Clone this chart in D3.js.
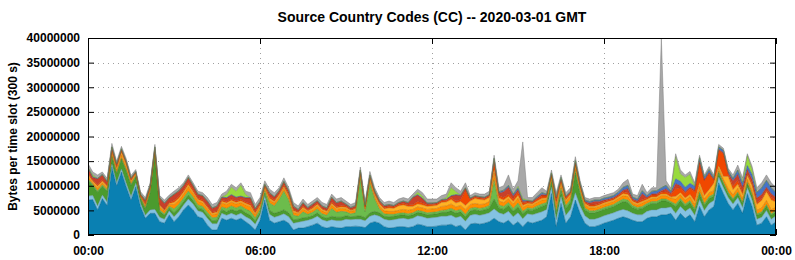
<!DOCTYPE html>
<html>
<head>
<meta charset="utf-8">
<script src="https://cdn.jsdelivr.net/npm/d3@7"></script>
<style>
  body { margin: 0; background: #fff; }
  svg text { font-family: "Liberation Sans", Arial, sans-serif; font-weight: bold; fill: #000; }
</style>
</head>
<body>
<svg id="chart" width="795" height="260"></svg>
<script>
// ---- DATA (values in millions of bytes per 300 s slot, one value every 10 minutes, 00:00 .. 24:00) ----
const title = "Source Country Codes (CC) -- 2020-03-01 GMT";
const yLabel = "Bytes per time slot (300 s)";
const unit = 1e6;
const slotMinutes = 10;
const yTicks = [0, 5000000, 10000000, 15000000, 20000000, 25000000, 30000000, 35000000, 40000000];
const xTickLabels = ["00:00", "06:00", "12:00", "18:00", "00:00"];

const blue = [7.1,7.2,5.1,7.4,6.0,13.8,10.0,12.8,9.8,7.1,9.8,5.8,
 3.4,4.4,4.4,2.7,2.4,4.1,2.7,3.7,5.1,6.1,5.1,3.7,
 3.4,2.0,1.0,1.0,3.4,3.0,3.4,3.0,3.4,2.7,2.0,1.0,
 3.0,7.1,3.0,2.4,2.7,3.0,2.4,1.0,1.4,1.4,1.7,2.0,
 2.4,1.7,1.4,1.7,1.5,1.4,1.7,1.7,1.8,1.7,1.5,2.4,
 2.7,2.4,1.7,1.4,1.5,1.7,1.7,1.5,1.7,2.2,2.0,1.7,
 1.7,1.8,2.0,2.0,2.2,1.7,2.0,1.0,2.2,2.4,2.2,2.4,
 2.7,3.4,2.7,2.4,3.0,2.0,2.7,1.7,2.7,2.4,2.7,3.0,
 3.7,8.4,1.7,6.4,2.4,3.7,7.1,4.4,2.4,1.7,1.7,2.0,
 2.4,2.7,3.0,3.4,3.7,3.4,3.0,2.7,2.7,3.4,3.7,3.7,
 4.1,4.1,4.4,3.0,4.4,3.4,4.1,2.7,5.8,3.7,5.1,5.8,
 10.6,8.4,6.4,5.1,6.4,4.4,8.4,5.8,2.0,2.4,3.7,2.0,
 2.7];
const lightBlue = [.8,.8,.8,.7,.7,.6,.6,.6,.7,.7,.7,.6,
 .6,.7,.8,.9,.8,.8,1.0,1.0,1.0,1.2,1.2,1.2,
 1.2,1.4,1.3,1.3,1.0,1.0,1.0,1.0,1.0,1.0,1.2,1.2,
 1.0,.8,1.2,1.2,1.2,1.3,1.3,1.4,1.2,1.4,1.3,1.3,
 1.4,1.4,1.4,1.4,1.4,1.5,1.5,1.4,1.4,1.5,1.4,1.4,
 1.4,1.4,1.5,1.6,1.6,1.6,1.7,1.7,1.7,1.7,1.7,1.7,
 1.8,1.8,1.8,1.8,1.8,1.8,1.8,1.8,1.8,1.8,1.8,1.8,
 1.8,1.9,1.8,1.8,1.8,1.7,1.8,1.6,1.6,1.7,1.7,1.7,
 1.5,1.3,1.4,1.4,1.6,1.5,1.5,1.5,1.5,1.5,1.5,1.5,
 1.5,1.5,1.5,1.5,1.5,1.5,1.4,1.4,1.4,1.4,1.4,1.4,
 1.4,1.4,1.3,1.4,1.4,1.4,1.4,1.3,1.4,1.3,1.3,1.2,
 1.2,1.2,1.2,1.2,1.2,1.2,1.2,1.3,1.2,1.2,1.3,1.2,
 1.2];
const green = [3.2,2.0,2.8,1.8,2.2,1.5,1.8,2.0,2.5,2.3,1.3,1.0,
 1.3,3.5,11.0,1.2,.8,.6,.8,.8,.7,.8,.7,.6,
 .6,.6,.6,.7,.7,.7,.8,.8,.8,.8,.8,.7,
 .6,.6,.8,.8,.8,.8,.8,.7,.6,.7,.6,.6,
 .7,.6,.6,.7,.7,.7,.7,.6,.6,.7,.6,.7,
 .7,.7,.6,.7,.7,.7,.7,.7,.7,.7,.7,.7,
 .7,.7,.8,.8,.9,.9,.9,.9,.9,.9,.9,.9,
 1.0,2.0,1.0,1.0,1.2,1.1,1.2,1.0,.8,.9,1.0,1.1,
 1.0,1.0,1.2,1.2,1.4,1.5,4.0,2.4,1.2,1.3,1.3,1.3,
 1.3,1.3,1.3,1.4,1.6,1.7,1.2,1.1,1.3,1.2,1.3,1.3,
 1.4,1.4,.8,1.4,1.2,1.1,1.1,1.0,1.2,1.0,1.0,.9,
 .8,.8,.8,.8,.8,.8,.8,.9,.8,.8,.9,.8,
 .8];
const lightGreen = [.3,.3,.3,.3,.3,.2,.2,.2,.2,.2,.2,.2,
 .2,.2,.2,.3,.3,.3,.8,.7,.7,.8,.7,.6,
 .6,.6,.6,.6,.6,.7,.7,.7,.7,.8,.8,.6,
 .6,.5,1.5,1.5,2.5,3.8,2.6,.9,.6,1.2,.6,.7,
 .8,.6,.6,1.6,1.0,1.2,.8,.6,.7,7.6,1.2,6.0,
 2.5,.8,.5,.5,.4,.4,.4,.4,.4,.4,.4,.4,
 .4,.4,.4,.5,.5,.5,.5,.5,.5,.5,.5,.5,
 .5,3.8,.6,.6,.6,.6,.8,.5,.4,.4,.5,.5,
 .4,.4,.5,.5,.6,.5,.5,.5,.4,.4,.4,.4,
 .4,.4,.4,.5,.5,.5,.4,.4,.4,.4,.4,.4,
 .4,.4,.3,.5,.4,.4,.4,.4,.4,.4,.4,.4,
 .3,.3,.3,.3,.3,.3,.3,.3,.3,.3,.3,.3,
 .3];
const orange = [.5,.3,.5,.4,.4,.5,.6,.6,.6,.4,.3,.2,
 .4,.4,.5,.6,.5,.4,.9,.8,.8,.9,.8,.8,
 .7,.7,.6,.7,.8,.8,.8,.8,.7,.8,.9,.6,
 .6,.5,.6,.6,.6,.6,.6,.6,.5,.6,.5,.5,
 .6,.6,.5,.7,.6,.6,.6,.5,.5,.6,.6,.6,
 .6,.6,.6,.6,.6,.6,.7,.7,.7,.7,.7,.7,
 .7,.7,.8,.8,.9,.8,.8,1.0,.8,.8,.8,.7,
 .8,1.5,.8,.8,.8,.9,1.0,.8,.6,.6,.7,.8,
 .6,.6,.9,.8,.8,.7,.8,.7,.6,.6,.6,.6,
 .6,.6,.6,.6,.7,.7,.5,.5,.7,.5,.6,.6,
 .7,.7,.7,1.0,.8,.8,.8,.8,1.0,.9,.8,.7,
 .6,.6,.7,.8,.8,.7,.6,.7,.7,.8,.8,.8,
 .7];
const amber = [.4,.3,.4,.3,.3,.3,.4,.6,.5,.3,.2,.1,
 .2,.2,.3,.3,.2,.2,.4,.4,.4,.4,.3,.3,
 .3,.3,.3,.3,.3,.3,.3,.3,.3,.3,.3,.3,
 .2,.2,.3,.3,.3,.3,.3,.3,.2,.3,.2,.3,
 .3,.3,.3,.3,.3,.3,.3,.2,.3,.3,.2,.3,
 .3,.4,.4,.7,.6,.9,.9,.8,.6,.6,.6,.6,
 .6,.6,.8,.8,.9,.8,.8,.8,.7,1.0,1.0,.8,
 .8,.6,.6,.5,.4,.5,.5,.4,.3,.3,.3,.3,
 .3,.2,.5,.3,.3,.3,.2,.2,.3,.3,.3,.3,
 .3,.3,.3,.3,.4,.4,.3,.3,.3,.3,.3,.3,
 .3,.3,.2,.5,.4,.4,.4,.6,.8,.7,.6,1.5,
 .5,.6,2.5,1.0,.8,.8,.8,1.0,1.2,1.5,1.8,2.0,
 1.0];
const orangeRed = [.3,.2,.3,.3,.2,.3,.3,.3,.3,.2,.2,.1,
 .3,.3,.3,.2,.2,.2,.4,.4,.4,.5,.4,.3,
 .3,.3,.2,.3,.3,.3,.3,.3,.3,.3,.4,.3,
 .3,.3,.4,.3,.3,.4,.3,.3,.2,.3,.2,.3,
 .3,.2,.2,.3,.3,.3,.3,.2,.2,.4,.2,.4,
 .4,.3,.3,.3,.3,.3,.3,.3,.4,.5,.4,.3,
 .3,.3,.3,.3,.4,.4,.4,3.0,.3,.3,.3,.3,
 .3,1.8,.5,.5,.5,.5,.8,.5,.3,.3,.4,.5,
 .4,.3,.8,.6,.4,.4,.5,.4,.3,.3,.3,.3,
 .3,.3,.3,.3,.4,.4,.3,.3,.4,.3,.4,.4,
 .4,.5,.5,1.6,1.0,1.0,1.2,2.0,4.0,3.0,3.3,.6,
 3.2,4.6,.5,.8,.8,.5,.4,.5,.4,.4,.4,.6,
 .3];
const brick = [1.0,.6,1.2,1.0,.7,.6,.5,.3,.3,.3,.1,.2,
 .6,.3,.3,1.3,1.2,.9,1.2,1.1,.9,.9,.8,.7,
 .8,.9,.8,.9,.5,.7,.8,.7,.6,.8,1.1,.6,
 .4,.2,.7,.6,.5,.6,.6,.6,.4,.6,.4,.5,
 .4,.4,.4,.9,.7,.8,.3,.3,.4,.3,.3,.3,
 .3,.3,.3,.3,.2,.3,.4,.4,1.4,1.3,.9,.3,
 .2,.2,.2,.2,.3,1.2,.8,.5,.2,.2,.2,.2,
 .2,.4,.5,1.2,1.4,.6,.4,.3,.2,.2,.2,.3,
 .2,.2,.5,.2,.2,.1,.1,.1,.1,.4,.7,.4,
 .3,.2,.2,.2,.3,.8,.2,.2,1.2,.1,.2,.3,
 .3,.6,.3,1.0,.4,.3,.3,.3,.3,.2,.2,.2,
 .2,.2,.2,1.0,1.2,1.0,.8,.8,.9,.8,.5,.7,
 .6];
const royalBlue = [.1,.1,.1,.1,.1,.1,.1,.1,.1,.1,.1,.1,
 .1,.1,.1,.1,.1,.1,.1,.1,.1,.1,.1,.1,
 .1,.1,.1,.1,.1,.1,.1,.1,.1,.1,.1,.1,
 .1,.1,.1,.1,.1,.1,.1,.1,.1,.1,.1,.1,
 .1,.1,.1,.1,.1,.1,.1,.1,.1,.1,.1,.1,
 .1,.1,.1,.1,.1,.1,.1,.1,.1,.1,.1,.1,
 .1,.1,.1,.1,.1,.1,.1,.1,.1,.1,.1,.1,
 .1,.2,.3,.3,.4,.4,.4,.3,.1,.1,.3,.4,
 .2,.2,.3,.3,.2,.2,.4,.3,.3,.3,.3,.3,
 .4,.4,.4,.5,.6,.7,.4,.4,.6,.4,.6,.6,
 .6,.7,.4,1.0,.9,.9,.8,.8,.8,.6,.6,.4,
 .5,.5,.4,.5,.9,.8,.8,1.0,1.2,1.4,1.4,1.2,
 1.0];
const lime = [0,.4,0,0,0,0,0,0,0,0,0,0,
 0,0,0,0,0,0,0,0,0,0,0,0,
 0,0,0,0,0,.6,1.5,1.2,2.2,.6,0,0,
 0,0,0,0,0,0,0,0,0,0,0,0,
 0,0,0,0,0,0,0,0,0,0,0,0,
 0,0,0,0,0,0,0,0,0,.5,.4,0,
 0,0,0,.3,1.6,.6,0,0,0,0,0,0,
 0,0,0,0,0,0,.3,.3,.1,0,0,0,
 0,0,0,0,0,0,0,0,0,0,0,0,
 0,0,0,0,0,0,0,0,0,0,0,0,
 0,0,0,4.5,1.5,2.0,1.8,0,0,0,0,0,
 0,0,0,0,0,.3,2.0,1.0,0,0,0,0,
 0];
const gray = [.8,.6,.7,.5,.6,.7,.5,.5,.5,.5,.4,.5,
 .5,.4,.5,.4,.6,.5,.6,.6,.5,.5,.5,.6,
 .6,.7,.7,.7,.6,.7,.6,.7,.5,.7,1.0,.8,
 .8,.7,.7,.8,.6,.7,.6,.7,.7,.7,.6,.6,
 .6,.7,.7,.6,.7,.7,.6,.6,.6,.6,.7,.7,
 .6,.6,.6,.7,.6,.7,.7,.7,.6,.6,.7,.8,
 .8,.7,.8,.7,1.0,.8,.8,1.0,.5,.6,.5,.6,
 .7,.6,.8,.9,2.1,1.0,1.1,11.5,.5,.7,.8,1.0,
 .6,.6,.8,.5,.7,.7,.8,.5,.5,.5,.5,.5,
 .5,.6,.6,.6,.9,1.2,.6,.7,1.3,.6,.7,.6,
 30.4,.9,.6,.6,.8,.5,.6,.7,.5,.4,.6,.5,
 .5,.4,.5,.7,1.0,.8,.4,.6,.9,1.0,1.1,1.0,
 1.0];

// ---- layout / styles ----
const seriesList = [
  {key: "blue", values: blue, color: "#0a80b2"},
  {key: "lightBlue", values: lightBlue, color: "#84c2e2"},
  {key: "green", values: green, color: "#4b9b2e"},
  {key: "lightGreen", values: lightGreen, color: "#6cbc4c"},
  {key: "orange", values: orange, color: "#ff8e00"},
  {key: "amber", values: amber, color: "#ffb224"},
  {key: "orangeRed", values: orangeRed, color: "#f04800"},
  {key: "brick", values: brick, color: "#c8402a"},
  {key: "royalBlue", values: royalBlue, color: "#4674c6"},
  {key: "lime", values: lime, color: "#98da3e"},
  {key: "gray", values: gray, color: "#a8a8a8"}
];

const W = 795, H = 260;
const M = {left: 88, right: 19, top: 38, bottom: 25};
const svg = d3.select("#chart");
const start = new Date(Date.UTC(2020, 2, 1, 0, 0));
const end = new Date(Date.UTC(2020, 2, 2, 0, 0));

const rows = blue.map((_, i) => {
  const r = {time: new Date(start.getTime() + i * slotMinutes * 60000)};
  seriesList.forEach(s => r[s.key] = s.values[i] * unit);
  return r;
});

const x = d3.scaleUtc().domain([start, end]).range([M.left, W - M.right]);
const y = d3.scaleLinear().domain([0, 40000000]).range([H - M.bottom, M.top]);

const stack = d3.stack().keys(seriesList.map(s => s.key));
const layers = stack(rows);

// grid
const xTickDates = d3.utcHours(start, new Date(end.getTime() + 1), 6);
const grid = svg.append("g");
grid.selectAll("line.gy").data(yTicks.slice(1, -1)).join("line")
  .attr("x1", M.left).attr("x2", W - M.right)
  .attr("y1", d => Math.round(y(d)) + 0.5).attr("y2", d => Math.round(y(d)) + 0.5)
  .attr("stroke", "#a0a0a0").attr("stroke-width", 1).attr("stroke-dasharray", "1,4");
grid.selectAll("line.gx").data(xTickDates.slice(1, -1)).join("line")
  .attr("x1", d => Math.round(x(d)) + 0.5).attr("x2", d => Math.round(x(d)) + 0.5)
  .attr("y1", M.top).attr("y2", H - M.bottom)
  .attr("stroke", "#a0a0a0").attr("stroke-width", 1).attr("stroke-dasharray", "1,4");

// clip
svg.append("clipPath").attr("id", "clip").append("rect")
  .attr("x", M.left).attr("y", M.top).attr("width", W - M.left - M.right).attr("height", H - M.top - M.bottom);

const area = d3.area()
  .x(d => x(d.data.time))
  .y0(d => y(d[0]))
  .y1(d => y(d[1]));
const topLine = d3.line()
  .x(d => x(d.data.time))
  .y(d => y(d[1]));

const plot = svg.append("g").attr("clip-path", "url(#clip)");
plot.selectAll("path.area").data(layers).join("path")
  .attr("class", "area")
  .attr("d", area)
  .attr("fill", (d, i) => seriesList[i].color);
plot.selectAll("path.edge").data(layers).join("path")
  .attr("class", "edge")
  .attr("d", topLine)
  .attr("fill", "none")
  .attr("stroke", (d, i) => d3.color(seriesList[i].color).darker(0.9))
  .attr("stroke-width", 0.7)
  .attr("stroke-opacity", 0.7);

// frame
svg.append("rect")
  .attr("x", M.left + 0.5).attr("y", M.top + 0.5)
  .attr("width", W - M.left - M.right - 1).attr("height", H - M.top - M.bottom - 1)
  .attr("fill", "none").attr("stroke", "#000").attr("stroke-width", 1);

// axes (ticks drawn inward, gnuplot style)
const yAxisL = d3.axisLeft(y).tickValues(yTicks).tickSize(-6).tickPadding(8).tickFormat(d3.format("d"));
const yAxisR = d3.axisRight(y).tickValues(yTicks).tickSize(-6).tickFormat("");
const xAxisB = d3.axisBottom(x).tickValues(xTickDates).tickSize(-6).tickPadding(11)
  .tickFormat((d, i) => xTickLabels[i]);
const xAxisT = d3.axisTop(x).tickValues(xTickDates).tickSize(-6).tickFormat("");

function styleAxis(g) {
  g.select(".domain").remove();
  g.selectAll(".tick line").attr("stroke", "#000");
  g.selectAll("text").attr("font-size", 12).attr("font-weight", "bold")
    .attr("font-family", "'Liberation Sans', Arial, sans-serif").attr("fill", "#000");
}
svg.append("g").attr("transform", `translate(${M.left},0)`).call(yAxisL).call(styleAxis);
svg.append("g").attr("transform", `translate(${W - M.right},0)`).call(yAxisR).call(styleAxis);
svg.append("g").attr("transform", `translate(0,${H - M.bottom})`).call(xAxisB).call(styleAxis);
svg.append("g").attr("transform", `translate(0,${M.top})`).call(xAxisT).call(styleAxis);

// title & label
svg.append("text").attr("x", (M.left + W - M.right) / 2).attr("y", 22)
  .attr("text-anchor", "middle").attr("font-size", 14).text(title);
svg.append("text")
  .attr("transform", `translate(17,${(M.top + H - M.bottom) / 2}) rotate(-90)`)
  .attr("text-anchor", "middle").attr("font-size", 12).text(yLabel);
</script>
</body>
</html>
